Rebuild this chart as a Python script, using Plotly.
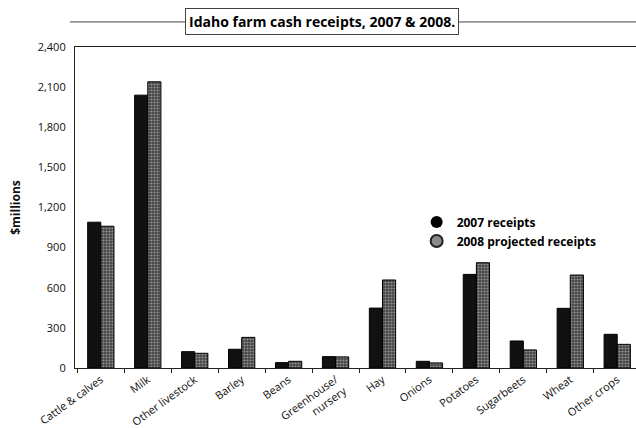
import plotly.graph_objects as go

categories = ["Cattle & calves", "Milk", "Other livestock", "Barley", "Beans",
              "Greenhouse/<br>nursery", "Hay", "Onions", "Potatoes", "Sugarbeets",
              "Wheat", "Other crops"]
receipts_2007 = [1090, 2040, 122, 140, 40, 85, 448, 50, 700, 202, 446, 252]
receipts_2008 = [1060, 2140, 110, 229, 50, 83, 658, 38, 787, 135, 695, 177]
y_ticks = [0, 300, 600, 900, 1200, 1500, 1800, 2100, 2400]
y_tick_labels = ["0", "300", "600", "900", "1,200", "1,500", "1,800", "2,100", "2,400"]
title_text = "Idaho farm cash receipts, 2007 & 2008."
series_names = ["2007 receipts", "2008 projected receipts"]

fig = go.Figure()
fig.add_trace(go.Bar(x=categories, y=receipts_2007, name=series_names[0],
                     marker=dict(color="#111111", line=dict(color="#000", width=1)),
                     showlegend=False))
fig.add_trace(go.Bar(x=categories, y=receipts_2008, name=series_names[1],
                     marker=dict(color="#4a4a4a", line=dict(color="#000", width=1),
                                 pattern=dict(shape=".", fgcolor="#e0e0e0", bgcolor="#444444",
                                              size=3, solidity=0.4)),
                     showlegend=False))
# legend entries with circular markers
fig.add_trace(go.Scatter(x=[None], y=[None], mode="markers", name=series_names[0],
                         marker=dict(symbol="circle", size=15, color="#000")))
fig.add_trace(go.Scatter(x=[None], y=[None], mode="markers", name=series_names[1],
                         marker=dict(symbol="circle", size=15, color="#8a8a8a",
                                     line=dict(color="#222", width=1.5))))

fig.update_layout(
    width=636, height=428,
    margin=dict(l=75, r=0, t=47, b=60, autoexpand=False),
    paper_bgcolor="white", plot_bgcolor="white",
    barmode="group", bargap=0.44, bargroupgap=0.0,
    font=dict(family="Open Sans", size=11, color="#111"),
    legend=dict(x=0.609, y=0.50, xanchor="left", yanchor="top",
                font=dict(family="Open Sans", size=12, color="#000", weight="bold"),
                itemsizing="constant", itemwidth=30, tracegroupgap=0,
                bgcolor="rgba(0,0,0,0)"),
    xaxis=dict(range=[-0.55, 11.4], showline=True, linecolor="#222", linewidth=1.2,
               mirror=True, ticks="outside", tickson="boundaries", ticklen=4,
               tickcolor="#222", tickangle=-36, showgrid=False, automargin=False,
               tickfont=dict(family="Open Sans", size=11, color="#111")),
    yaxis=dict(range=[0, 2400], tickvals=y_ticks, ticktext=y_tick_labels,
               showline=True, linecolor="#222", linewidth=1.2, showgrid=False,
               zeroline=False, ticks="", ticklabelstandoff=6, automargin=False,
               title=dict(text="<b>$millions</b>", font=dict(family="Open Sans", size=12), standoff=14),
               tickfont=dict(family="Open Sans", size=11, color="#111")),
)

# title bar line and box
fig.add_shape(type="line", xref="paper", yref="paper", x0=-0.009, x1=1.0,
              y0=1.078, y1=1.078, line=dict(color="#444", width=1))
fig.add_annotation(text="<b>" + title_text + "</b>", xref="paper", yref="paper",
                   x=0.44, y=1.078, xanchor="center", yanchor="middle", showarrow=False,
                   font=dict(family="Open Sans", size=14, color="#000"),
                   bgcolor="white", bordercolor="#444", borderwidth=1, borderpad=3)

fig.write_html("out.html")
